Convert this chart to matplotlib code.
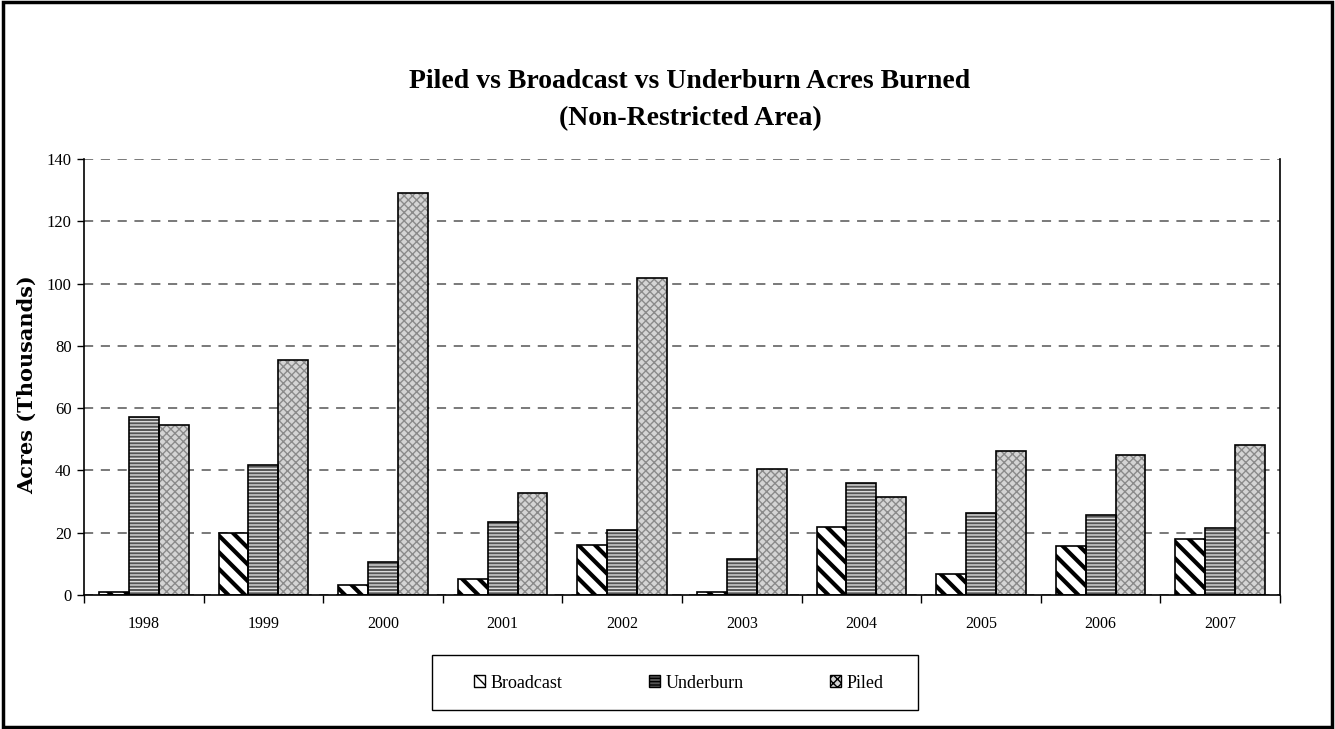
## Import libraries
import numpy as np
import matplotlib
matplotlib.use('Agg')
import matplotlib.pyplot as plt
from matplotlib.patches import Rectangle, Patch

## Data (acres, thousands)
years = ['1998', '1999', '2000', '2001', '2002', '2003', '2004', '2005', '2006', '2007']
broadcast = [1.0, 19.8, 3.2, 5.0, 16.1, 1.0, 21.9, 6.8, 15.6, 18.0]
underburn = [57.3, 41.8, 10.6, 23.4, 20.8, 11.6, 35.9, 26.2, 25.7, 21.6]
piled = [54.5, 75.6, 129.2, 32.7, 101.7, 40.4, 31.6, 46.2, 45.0, 48.2]

series = ['Broadcast', 'Underburn', 'Piled']
values = [broadcast, underburn, piled]

## Styles
plt.rcParams['font.family'] = ['Liberation Serif', 'DejaVu Serif']
face = ['white', '#555555', '#d4d4d4']
hatch = ['\\\\', '-----', 'xxxx']
hatch_col = ['black', '#dddddd', '#8a8a8a']
hatch_lw = [3.0, 1.0, 1.0]

## Figure
fig = plt.figure(figsize=(13.35, 7.29), dpi=100)
ax = fig.add_axes([84/1335, 1-595/729, (1280-84)/1335, (595-159)/729])

x = np.arange(len(years))
w = 0.25
for i in range(3):
    pos = x + (i - 1)*w
    with plt.rc_context({'hatch.linewidth': hatch_lw[i]}):
        ax.bar(pos, values[i], w, color=face[i], hatch=hatch[i],
               edgecolor=hatch_col[i], linewidth=0, zorder=2)
    ax.bar(pos, values[i], w, fill=False, edgecolor='black', linewidth=1.2, zorder=3)

ax.set_xlim(-0.5, len(years) - 0.5)
ax.set_ylim(0, 140)
ax.set_yticks(np.arange(0, 141, 20))
ax.set_xticks(x)
ax.set_xticklabels(years, fontsize=11.5)
ax.set_xticks(np.arange(-0.5, len(years)), minor=True)
ax.tick_params(axis='x', which='major', length=0, pad=15)
ax.tick_params(axis='x', which='minor', length=6, width=1, direction='out')
ax.tick_params(axis='y', labelsize=12, length=5, width=1, direction='out', pad=4)
ax.yaxis.grid(True, linestyle=(0, (6, 5)), color='#555555', linewidth=1.1, zorder=0)
ax.set_axisbelow(True)
ax.spines['top'].set_visible(False)
for s in ['left', 'right', 'bottom']:
    ax.spines[s].set_linewidth(1.2)

ax.set_ylabel('Acres (Thousands)', fontsize=15, fontweight='bold',
              family=['DejaVu Serif'])
ax.yaxis.set_label_coords(-47/1196, (595-385)/436)
fig.text(690/1335, 1-100/729, 'Piled vs Broadcast vs Underburn Acres Burned\n(Non-Restricted Area)',
         ha='center', va='center', fontsize=20, fontweight='bold', linespacing=1.65)

## Legend (frame drawn separately)
handles = [Patch(facecolor=face[i], hatch=hatch[i], edgecolor='black') for i in range(3)]
leg = fig.legend(handles, series, ncol=3, loc='center',
                 bbox_to_anchor=(679/1335, 1-683/729), fontsize=13,
                 frameon=False, handlelength=0.6, handleheight=0.6, handletextpad=0.3,
                 columnspacing=4.8)
fig.patches.append(Rectangle((432/1335, 1-710/729), 486/1335, 55/729, transform=fig.transFigure,
                             fill=False, edgecolor='black', linewidth=1.0))

## Outer border
fig.patches.append(Rectangle((0.002, 0.003), 0.996, 0.994, transform=fig.transFigure,
                             fill=False, edgecolor='black', linewidth=2.5))

fig.savefig('out.png', dpi=100)
